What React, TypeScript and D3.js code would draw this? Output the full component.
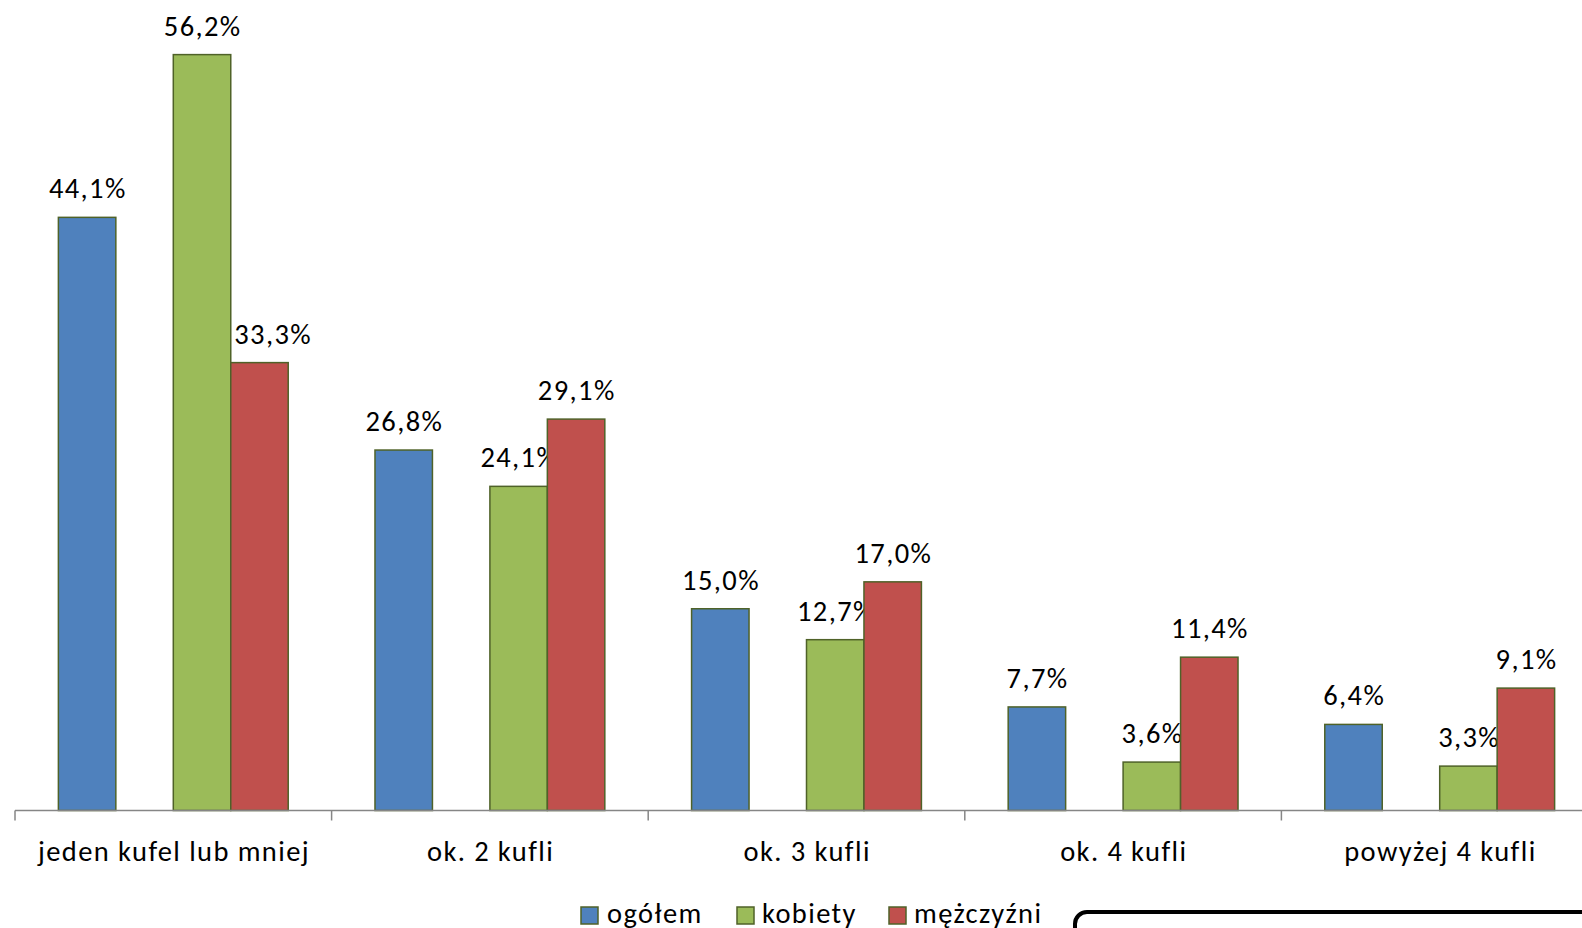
import React from "react";
import * as d3 from "d3";

const categories = ["jeden kufel lub mniej", "ok. 2 kufli", "ok. 3 kufli", "ok. 4 kufli", "powyżej 4 kufli"];
const seriesNames = ["ogółem", "kobiety", "mężczyźni"];
const ogolem = [44.1, 26.8, 15.0, 7.7, 6.4];
const kobiety = [56.2, 24.1, 12.7, 3.6, 3.3];
const mezczyzni = [33.3, 29.1, 17.0, 11.4, 9.1];
const seriesColors = ["#4F81BD", "#9BBB59", "#C0504D"];
// slot index of each series inside a category group (slot 1 is empty in the original)
const seriesSlots = ["s0", "s2", "s3"];
const allSlots = ["s0", "s1", "s2", "s3"];

const W = 1582;
const H = 928;
const FONT = "Carlito, Calibri, Lato, 'Open Sans', sans-serif";
const FS = 28.5;
const LS = 1.4;

export default function App() {
  const series = [ogolem, kobiety, mezczyzni];
  const x0 = 15;
  const catW = 316.6;
  const x = d3.scaleBand<string>().domain(categories).range([x0, x0 + catW * categories.length]).paddingInner(0).paddingOuter(0);
  const inner = d3.scaleBand<string>().domain(allSlots).range([0, x.bandwidth()]).paddingInner(0).paddingOuter(0.755);
  const y = d3.scaleLinear().domain([0, 60]).range([810.5, 3.5]);
  const fmt = (v: number) => v.toFixed(1).replace(".", ",") + "%";
  const axisY = y(0);
  const ticks = d3.range(categories.length + 1).map((i) => x0 + catW * i);

  const legendItems = [
    { sx: 581, tx: 607 },
    { sx: 737, tx: 762 },
    { sx: 889, tx: 914 },
  ];

  return (
    <div style={{ position: "fixed", left: 0, top: 0 }}>
      <svg width={W} height={H} style={{ display: "block", background: "#fff" }} fontFamily={FONT} letterSpacing={LS}>
        {series.map((vals, si) =>
          vals.map((v, ci) => {
            const bx = (x(categories[ci]) as number) + (inner(seriesSlots[si]) as number);
            const bw = inner.bandwidth();
            // the first red label is nudged right in the original to clear the green bar
            const dx = si === 2 && ci === 0 ? 13 : 0;
            return (
              <g key={`${si}-${ci}`}>
                <rect x={bx} y={y(v)} width={bw} height={axisY - y(v)} fill={seriesColors[si]} stroke="#4F6228" strokeWidth={1.5} />
                <text x={bx + bw / 2 + LS / 2 + dx} y={y(v) - 19} textAnchor="middle" fontSize={FS} fill="#000">
                  {fmt(v)}
                </text>
              </g>
            );
          })
        )}
        <line x1={x0} x2={W + 20} y1={axisY} y2={axisY} stroke="#868686" strokeWidth={1.5} />
        {ticks.map((t, i) => (
          <line key={i} x1={t} x2={t} y1={axisY} y2={axisY + 10} stroke="#868686" strokeWidth={1.5} />
        ))}
        {categories.map((c) => (
          <text key={c} x={(x(c) as number) + x.bandwidth() / 2 + LS / 2} y={861} textAnchor="middle" fontSize={FS} fill="#000">
            {c}
          </text>
        ))}
        {seriesNames.map((n, i) => (
          <g key={n}>
            <rect x={legendItems[i].sx} y={907} width={17} height={17} fill={seriesColors[i]} stroke="#4F6228" strokeWidth={1.5} />
            <text x={legendItems[i].tx} y={923} fontSize={FS} fill="#000">
              {n}
            </text>
          </g>
        ))}
        <rect x={1075} y={912} width={700} height={200} rx={12} ry={12} fill="none" stroke="#000" strokeWidth={4} />
      </svg>
    </div>
  );
}
